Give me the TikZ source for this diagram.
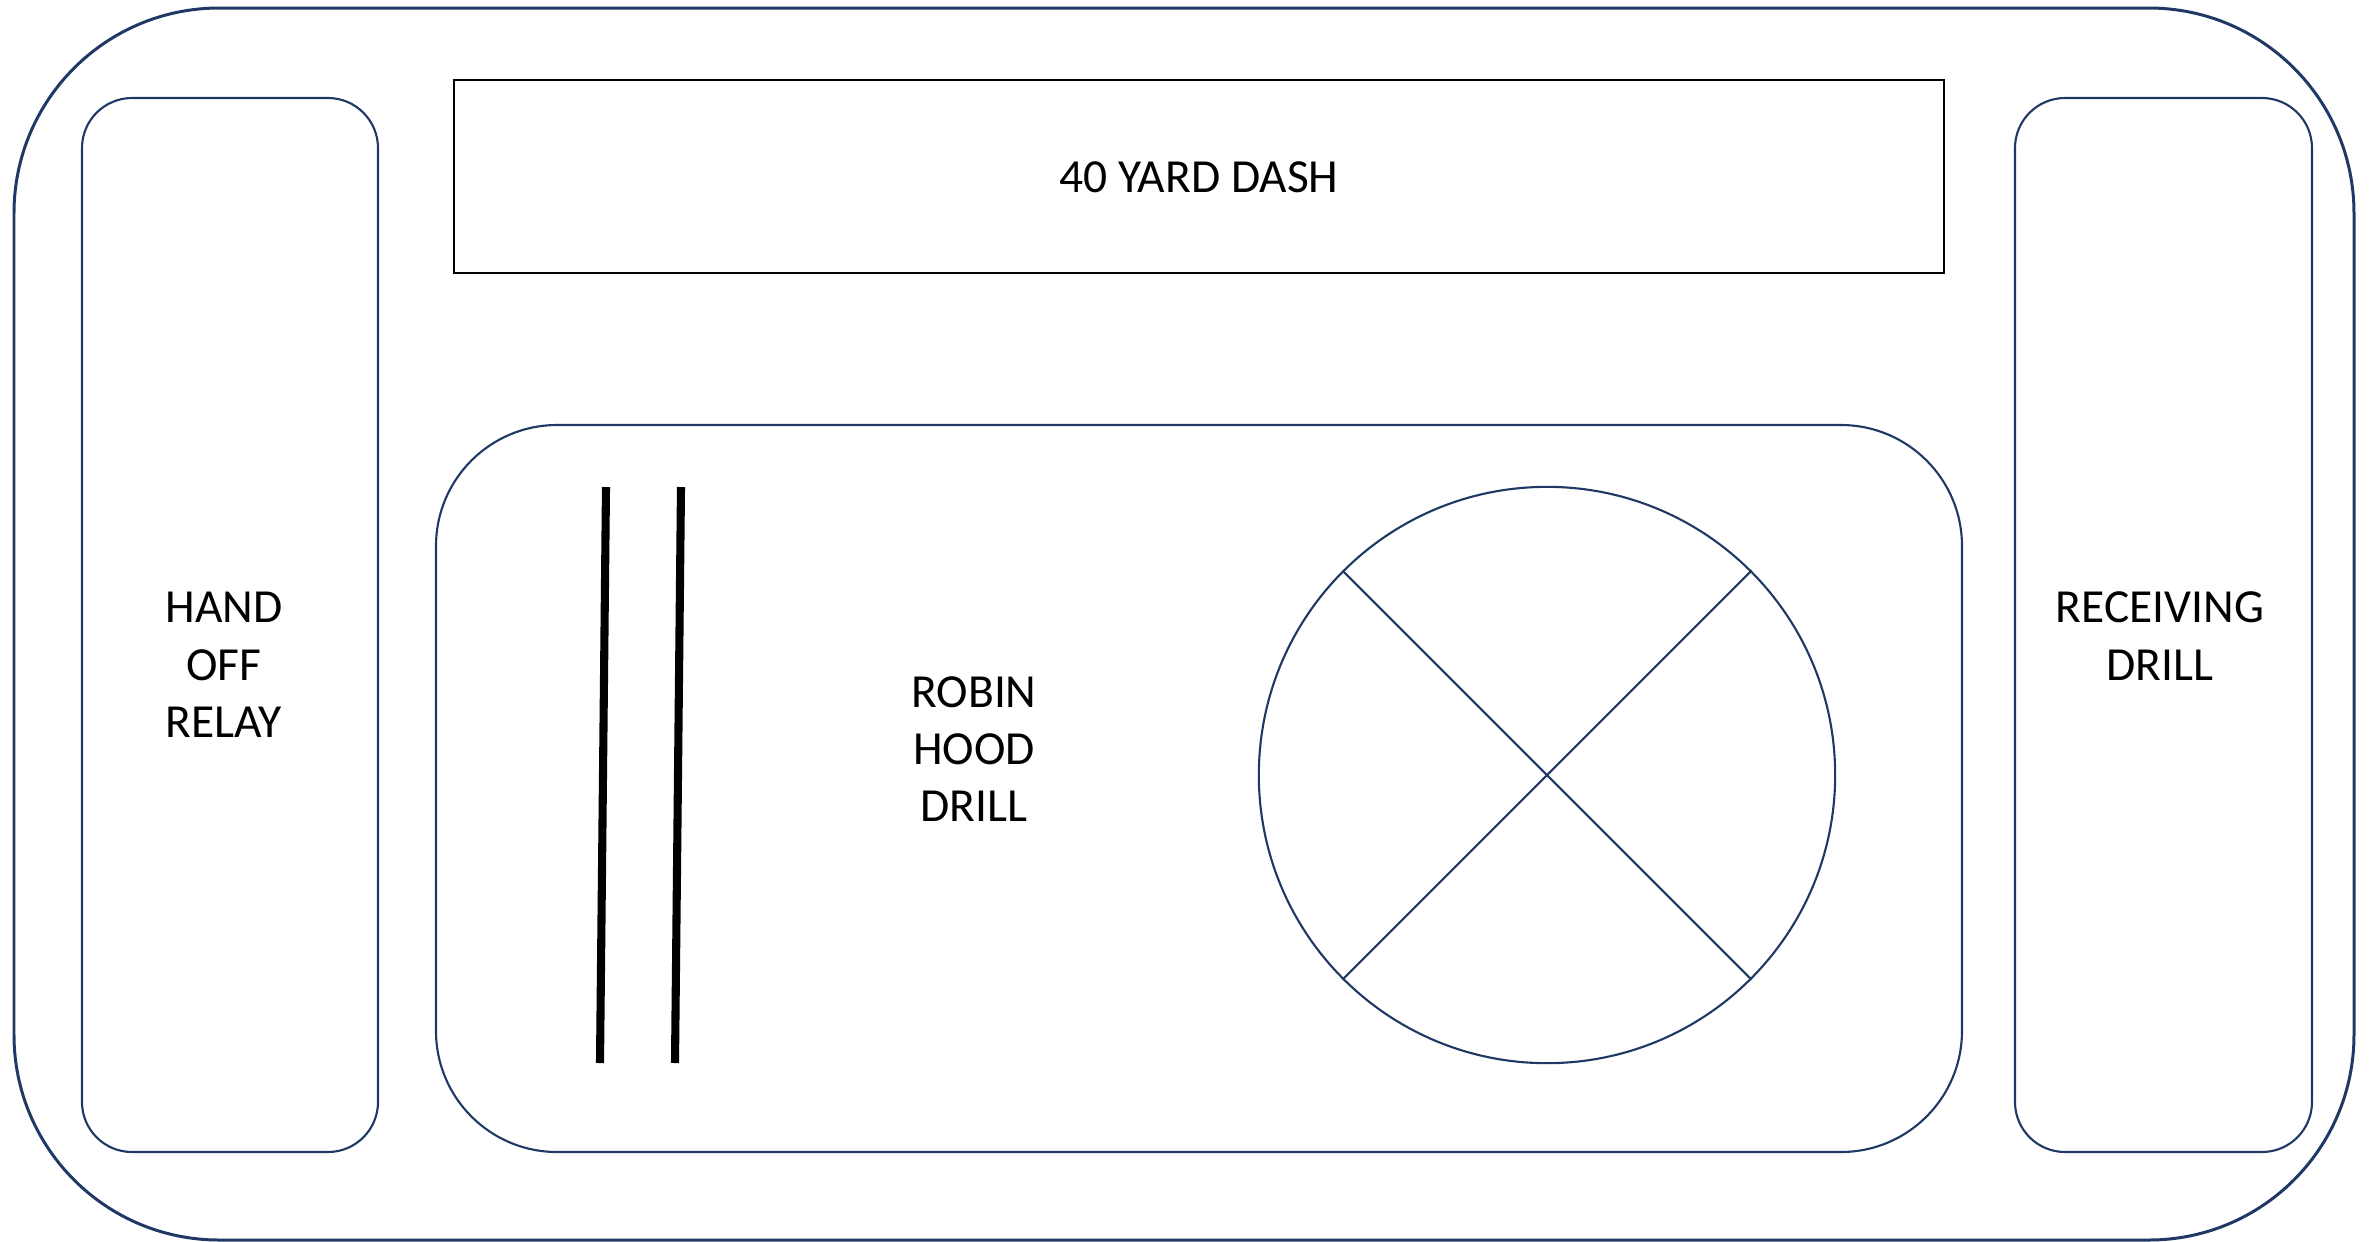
\documentclass[tikz,border=0pt]{standalone}
\usepackage{fontspec}
\setmainfont{Carlito}
\usepackage{xcolor}
\usepackage{tikz}
\definecolor{fieldblue}{RGB}{31,56,100}

\begin{document}
\begin{tikzpicture}[x=0.01cm,y=-0.01cm,
    lane/.style={draw=fieldblue,line width=0.6pt},
    drilltext/.style={font=\fontsize{13.5}{16.3}\selectfont,align=center,inner sep=0pt}]
      \useasboundingbox (0,0) rectangle (2374,1241);
      % field outline and the stations
      \draw[lane,line width=0.85pt,rounded corners=2.05cm] (14,8) rectangle (2354,1240);
      \draw[lane,rounded corners=0.5cm] (82,98) rectangle (378,1152);
      \draw[lane,rounded corners=0.5cm] (2015,98) rectangle (2312,1152);
      \draw[lane,rounded corners=1.21cm] (436,425) rectangle (1962,1152);
      \draw[black,line width=0.6pt] (454,80) rectangle (1944,273);
      % cones for the robin hood drill
      \foreach \dx in {0,75} \draw[black,line width=2.3pt] (606+\dx,487) -- (600+\dx,1063);
      \node[lane,circle,minimum size=5.76cm,inner sep=0pt] (ring) at (1547,775) {};
      \draw[lane] (ring.45) -- (ring.225);
      \draw[lane] (ring.135) -- (ring.-45);
      \node[drilltext] (dash) at (1199,177) {40 YARD DASH};
      \node[drilltext] (handoff) at (224,665) {HAND\\OFF\\RELAY};
      \node[drilltext] (robin) at (974,749) {ROBIN\\HOOD\\DRILL};
      \node[drilltext] (receiving) at (2160,636) {RECEIVING\\DRILL};
    \end{tikzpicture}
\end{document}
